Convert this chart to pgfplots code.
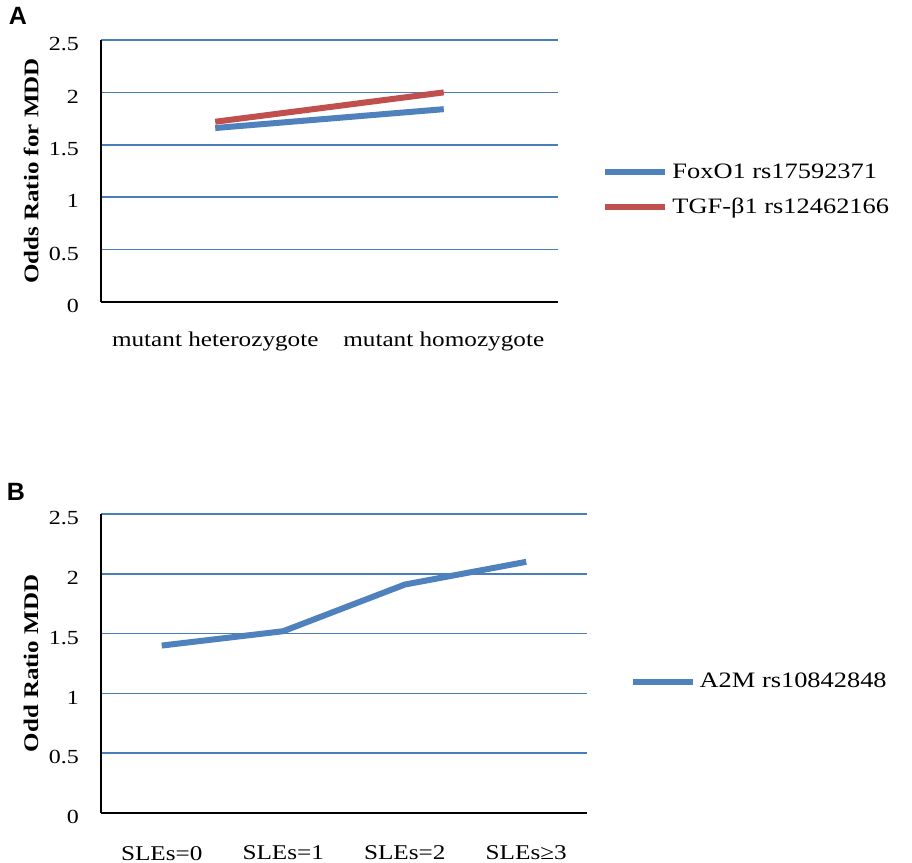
\documentclass[border=0pt]{standalone}
\usepackage{pgfplots}
\pgfplotsset{compat=1.18}
\usepackage{fontspec}
\setmainfont{Liberation Serif}[FakeStretch=1.2]
\newfontfamily\panelfont{Liberation Sans}
\definecolor{serblue}{HTML}{4F81BD}
\definecolor{serred}{HTML}{C0504D}
\definecolor{gridblue}{HTML}{4A7EBB}
\pgfplotsset{
  myaxis/.style={
    scale only axis,
    axis x line=bottom, axis y line=left,
    axis line style={-, black, line width=1pt},
    ymin=0, ymax=2.5, ytick={0,0.5,1,1.5,2,2.5},
    ymajorgrids, major grid style={gridblue, line width=0.75pt},
    major tick length=0pt,
    /pgf/number format/assume math mode=true,
    yticklabel style={font=\fontsize{10}{12}\selectfont, xshift=-7.5pt, yshift=-2pt},
    xticklabel style={font=\fontsize{10.5}{12}\selectfont, yshift=-11.5pt},
    ylabel style={font=\fontsize{10.4}{12}\selectfont\bfseries, anchor=center},
    legend style={draw=none, fill=none, inner sep=0pt, anchor=west,
      font=\fontsize{11}{13}\selectfont, row sep=4.5pt},
    legend cell align=left,
    legend image code/.code={\draw (0pt,0pt) -- (30pt,0pt);},
    every axis plot/.append style={line width=3pt, line join=round, line cap=butt},
  }
}
\begin{document}
\begin{tikzpicture}
\path[use as bounding box] (0,0) rectangle (456pt,431.5pt);
\node[font=\panelfont\bfseries\fontsize{12.5}{14}\selectfont] at (9pt,423.5pt) {A};
\node[font=\panelfont\bfseries\fontsize{12.5}{14}\selectfont] at (8pt,185.75pt) {B};
\begin{axis}[myaxis,
  at={(50.5pt,280.5pt)}, anchor=south west,
  width=228.5pt, height=131pt,
  xmin=-0.5, xmax=1.5, xtick={0,1},
  xticklabels={mutant heterozygote, mutant homozygote},
  ylabel={Odds Ratio for MDD},
  ylabel style={at={(axis description cs:-0.153,0.5)}},
  legend style={at={(axis description cs:1.0965,0.427)}},
]
\addplot[serblue] coordinates {(0,1.66) (1,1.84)};
\addlegendentry{FoxO1 rs17592371}
\addplot[serred] coordinates {(0,1.72) (1,2.00)};
\addlegendentry{TGF-β1 rs12462166}
\end{axis}
\begin{axis}[myaxis,
  at={(50.5pt,25pt)}, anchor=south west,
  width=243pt, height=149.5pt,
  xmin=-0.5, xmax=3.5, xtick={0,1,2,3},
  xticklabels={SLEs=0, SLEs=1, SLEs=2, SLEs≥3},
  xticklabel style={yshift=-1.5pt},
  ylabel={Odd Ratio MDD},
  ylabel style={at={(axis description cs:-0.144,0.5)}},
  legend style={at={(axis description cs:1.087,0.438)}},
]
\addplot[serblue] coordinates {(0,1.40) (1,1.52) (2,1.91) (3,2.10)};
\addlegendentry{A2M rs10842848}
\end{axis}
\end{tikzpicture}
\end{document}
